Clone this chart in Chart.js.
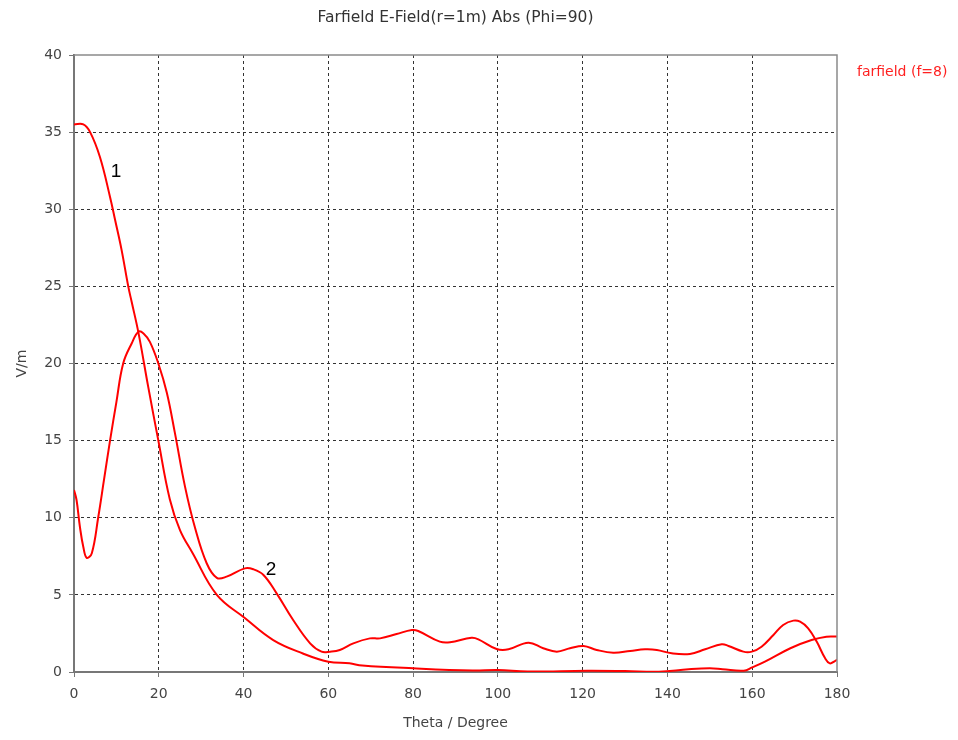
<!DOCTYPE html>
<html>
<head>
<meta charset="utf-8">
<script src="https://cdn.jsdelivr.net/npm/chart.js@4.4.1/dist/chart.umd.min.js"></script>
<style>
  html, body { margin: 0; padding: 0; background: #fff; }
  #wrap { width: 958px; height: 740px; position: relative; }
</style>
</head>
<body>
<div id="wrap"><canvas id="chart"></canvas></div>
<script>
  // Curve 1: main beam, decays from 35.5 V/m
  const theta1 = [0, 2.2, 3.8, 6.1, 8.5, 9.7, 11.2, 12.8, 13.6, 15.2, 17.5, 19.9, 22.6, 25, 28,
    33.7, 40.3, 47, 54, 60, 65, 68, 80, 94, 100, 107, 121, 130, 138, 145, 150, 153, 158, 160,
    163, 169, 174, 177.5, 180];
  const field1 = [35.5, 35.5, 35.0, 33.4, 30.8, 29.3, 27.4, 25.0, 24.0, 22.0, 18.5, 15.0, 11.2, 9.2, 7.7,
    5.0, 3.5, 2.07, 1.2, 0.67, 0.56, 0.42, 0.24, 0.1, 0.13, 0.03, 0.08, 0.06, 0.02, 0.18, 0.24, 0.18, 0.08, 0.3,
    0.67, 1.54, 2.07, 2.29, 2.3];

  // Curve 2: starts at 11.8, peaks near 15 deg
  const theta2 = [0, 0.6, 1.4, 2.2, 3.0, 4.2, 5.7, 7.1, 8.5, 10.0, 11.6, 13.6, 15.2, 16.4, 17.9, 19.9,
    21.9, 23.8, 26.2, 28.5, 31.3, 33.7, 36, 40.3, 42.3, 44.7, 47.8, 51.7, 55.7, 58.4, 60.4, 62.7,
    65.9, 69.8, 72.2, 76.1, 79.7, 81.2, 86.3, 88.7, 93.8, 95.4, 99.7, 102.5, 107.2, 110.7, 113.9,
    117, 120.2, 123.3, 127.2, 131.2, 134.7, 137.5, 141, 145.3, 148.9, 152.8, 154.4, 157.9, 159.9,
    162.2, 165, 167.3, 169.7, 171.3, 173.2, 175.2, 177.2, 178.3, 179.5, 180];
  const field2 = [11.8, 11.15, 9.4, 8.1, 7.4, 7.7, 10.0, 12.5, 15.0, 17.5, 20.0, 21.3, 22.06, 21.95, 21.4, 20.0,
    18.1, 15.5, 12.0, 9.4, 7.05, 6.1, 6.18, 6.72, 6.66, 6.29, 5.1, 3.37, 1.86, 1.32, 1.32, 1.43,
    1.86, 2.18, 2.18, 2.46, 2.72, 2.66, 1.97, 1.93, 2.22, 2.12, 1.49, 1.47, 1.9, 1.54, 1.32,
    1.54, 1.69, 1.43, 1.25, 1.36, 1.47, 1.43, 1.21, 1.17, 1.47, 1.8, 1.69, 1.32, 1.32,
    1.64, 2.4, 3.05, 3.33, 3.26, 2.83, 1.97, 0.89, 0.56, 0.71, 0.8];

  const xTicks = [0, 20, 40, 60, 80, 100, 120, 140, 160, 180];
  const yTicks = [0, 5, 10, 15, 20, 25, 30, 35, 40];

  const chartTitle = "Farfield E-Field(r=1m) Abs (Phi=90)";
  const legendLabel = "farfield (f=8)";
  const curveLabels = ["1", "2"];
  const curveLabelAt = [[9.9, 32.4], [46.5, 6.6]];

  const toPoints = (xs, ys) => xs.map((x, i) => ({ x, y: ys[i] }));
  const FONT = "'DejaVu Sans', sans-serif";

  const textPlugin = {
    id: "texts",
    afterDraw(chart) {
      const { ctx, chartArea: a, scales: { x, y } } = chart;
      ctx.save();
      // frame on top and right
      ctx.strokeStyle = "#8a8a8a";
      ctx.lineWidth = 1.5;
      ctx.beginPath();
      ctx.moveTo(a.left, a.top); ctx.lineTo(a.right, a.top); ctx.lineTo(a.right, a.bottom);
      ctx.stroke();

      ctx.fillStyle = "#333";
      ctx.font = "15.5px " + FONT;
      ctx.textAlign = "center";
      ctx.textBaseline = "middle";
      ctx.fillText(chartTitle, (a.left + a.right) / 2, 18);

      ctx.fillStyle = "#ff2020";
      ctx.font = "14px " + FONT;
      ctx.textAlign = "left";
      ctx.fillText(legendLabel, 857, 72);

      ctx.fillStyle = "#000";
      ctx.font = "19px 'Liberation Sans', Arial, sans-serif";
      ctx.textAlign = "center";
      curveLabels.forEach((t, i) => {
        const [tx, ty] = curveLabelAt[i];
        ctx.fillText(t, x.getPixelForValue(tx), y.getPixelForValue(ty));
      });
      ctx.restore();
    }
  };

  const lineStyle = {
    borderColor: "#ff0000",
    borderWidth: 2,
    pointRadius: 0,
    fill: false,
    tension: 0.4
  };

  new Chart(document.getElementById("chart"), {
    type: "line",
    data: {
      datasets: [
        { label: "1", data: toPoints(theta1, field1), ...lineStyle },
        { label: "2", data: toPoints(theta2, field2), ...lineStyle }
      ]
    },
    options: {
      responsive: true,
      maintainAspectRatio: false,
      animation: false,
      layout: { padding: { left: 0, top: 55, right: 121, bottom: 0 } },
      plugins: { legend: { display: false }, tooltip: { enabled: false } },
      scales: {
        x: {
          type: "linear",
          min: 0, max: 180,
          afterBuildTicks: (s) => { s.ticks = xTicks.map(v => ({ value: v })); },
          afterFit: (s) => { s.height = 68; },
          ticks: { color: "#444", font: { family: FONT, size: 14 }, padding: 9, maxRotation: 0 },
          grid: {
            color: (c) => c.index === xTicks.length - 1 ? "rgba(0,0,0,0)" : "#333",
            lineWidth: 1, tickLength: 5, tickColor: "#777"
          },
          border: { color: "#777", width: 2, dash: [3, 3] },
          title: { display: true, text: "Theta / Degree", color: "#444",
            font: { family: FONT, size: 14 }, padding: { top: 0, bottom: 8 } }
        },
        y: {
          min: 0, max: 40,
          afterBuildTicks: (s) => { s.ticks = yTicks.map(v => ({ value: v })); },
          afterFit: (s) => { s.width = 74; },
          ticks: { color: "#444", font: { family: FONT, size: 14 }, padding: 7 },
          grid: {
            color: (c) => c.index === yTicks.length - 1 ? "rgba(0,0,0,0)" : "#333",
            lineWidth: 1, tickLength: 5, tickColor: "#777"
          },
          border: { color: "#777", width: 2, dash: [3, 3] },
          title: { display: true, text: "V/m", color: "#444",
            font: { family: FONT, size: 14 }, padding: { top: 14, bottom: 0 } }
        }
      }
    },
    plugins: [textPlugin]
  });
</script>
</body>
</html>
